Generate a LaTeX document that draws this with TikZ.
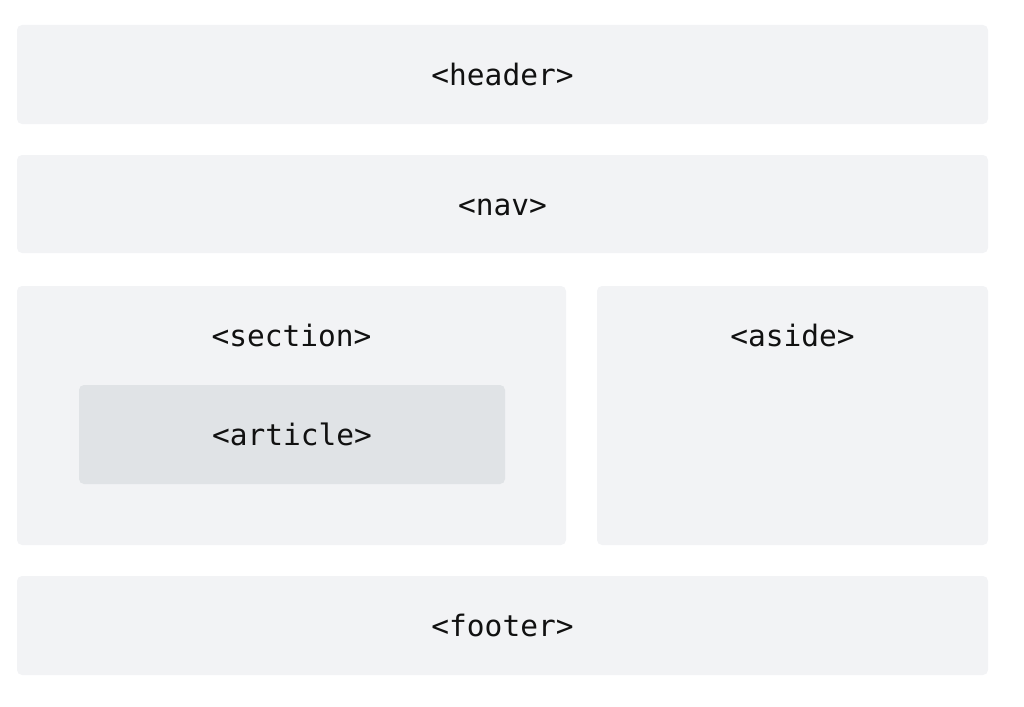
\documentclass[tikz,border=0pt]{standalone}
\usepackage{fontspec}
\setmonofont{DejaVu Sans Mono}
\definecolor{boxgray}{HTML}{F2F3F5}
\definecolor{articlegray}{HTML}{E0E3E6}
\definecolor{textdark}{HTML}{111111}
\tikzset{
	block/.style={fill=boxgray, rounded corners=5pt, inner sep=0pt, font=\ttfamily\fontsize{29.5}{34}\selectfont, text=textdark, text height=22pt, text depth=0pt},
	tag/.style={font=\ttfamily\fontsize{29.5}{34}\selectfont, text=textdark, inner sep=0pt, text height=22pt, text depth=0pt}
}
\begin{document}
\begin{tikzpicture}[x=1pt, y=-1pt]
	\useasboundingbox (0,0) rectangle (1024,706);
	\node[block, minimum width=971pt, minimum height=99pt] (header) at (502.5,74.5) {<header>};
	\node[block, minimum width=971pt, minimum height=98pt] (nav) at (502.5,204) {<nav>};

	\node[block, minimum width=549pt, minimum height=259pt] (section) at (291.5,415.5) {};
	\node[block, minimum width=391pt, minimum height=259pt] (aside) at (792.5,415.5) {};
	\node[tag] (sectionlabel) at (291.5,335.5) {<section>};
	\node[tag] (asidelabel) at (792.5,335.5) {<aside>};
	\node[block, fill=articlegray, minimum width=426pt, minimum height=99pt] (article) at (292,434.5) {<article>};

	\node[block, minimum width=971pt, minimum height=99pt] (footer) at (502.5,625.5) {<footer>};
\end{tikzpicture}
\end{document}
